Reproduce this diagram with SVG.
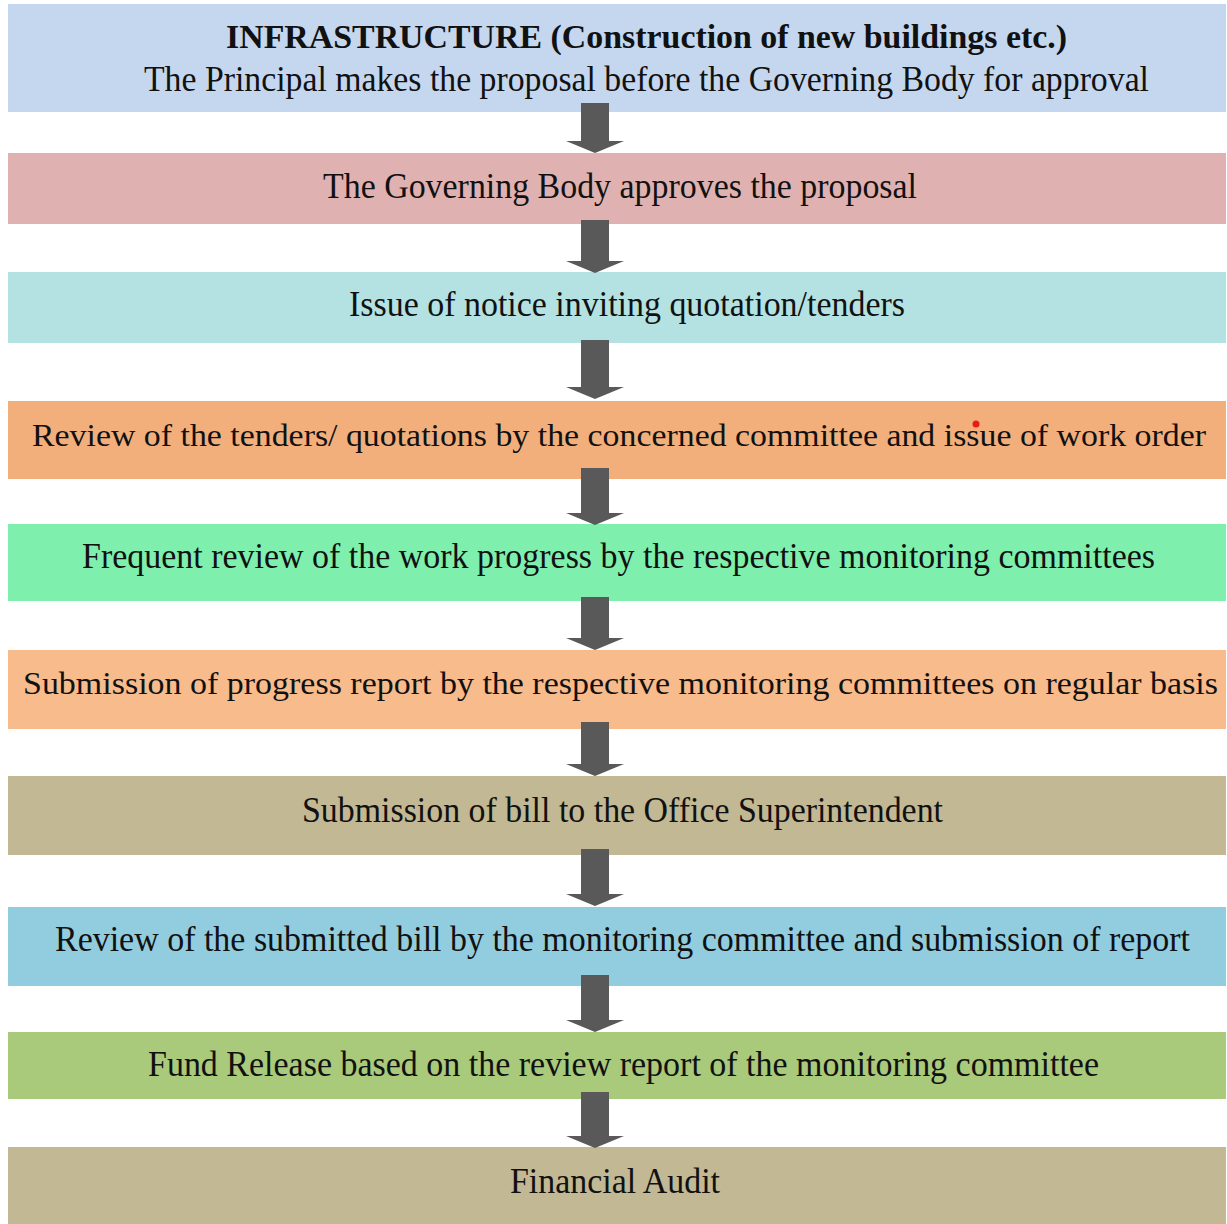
<svg xmlns="http://www.w3.org/2000/svg" width="1227" height="1224" viewBox="0 0 1227 1224">
<style>
.t{font-family:"Liberation Serif","Times New Roman",serif;font-size:35px;fill:#111;}
.b{font-weight:bold;font-size:33px;}
.w{font-size:32px;}
.arr{fill:#595959;}
</style>
<rect x="0" y="0" width="1227" height="1224" fill="#ffffff"/>
<g id="n1"><rect x="8" y="4" width="1218" height="108" fill="#c5d7ef"/>
<text class="t b" x="226" y="48" textLength="841" lengthAdjust="spacingAndGlyphs">INFRASTRUCTURE (Construction of new buildings etc.)</text>
<text class="t" x="144" y="91" textLength="1005" lengthAdjust="spacingAndGlyphs">The Principal makes the proposal before the Governing Body for approval</text></g>
<g id="n2"><rect x="8" y="153" width="1218" height="71" fill="#e0b1b1"/>
<text class="t" x="323" y="198" textLength="594" lengthAdjust="spacingAndGlyphs">The Governing Body approves the proposal</text></g>
<g id="n3"><rect x="8" y="272" width="1218" height="71" fill="#b4e1e1"/>
<text class="t" x="349" y="316" textLength="556" lengthAdjust="spacingAndGlyphs">Issue of notice inviting quotation/tenders</text></g>
<g id="n4"><rect x="8" y="401" width="1218" height="78" fill="#f2af7c"/>
<text class="t w" x="32" y="446" textLength="1174" lengthAdjust="spacingAndGlyphs">Review of the tenders/ quotations by the concerned committee and issue of work order</text>
<circle cx="976" cy="424" r="3.5" fill="#e81b1b"/></g>
<g id="n5"><rect x="8" y="524" width="1218" height="77" fill="#7eefad"/>
<text class="t" x="82" y="568" textLength="1073" lengthAdjust="spacingAndGlyphs">Frequent review of the work progress by the respective monitoring committees</text></g>
<g id="n6"><rect x="8" y="650" width="1218" height="79" fill="#f7bb8c"/>
<text class="t w" x="23" y="694" textLength="1195" lengthAdjust="spacingAndGlyphs">Submission of progress report by the respective monitoring committees on regular basis</text></g>
<g id="n7"><rect x="8" y="776" width="1218" height="79" fill="#c2b893"/>
<text class="t" x="302" y="822" textLength="641" lengthAdjust="spacingAndGlyphs">Submission of bill to the Office Superintendent</text></g>
<g id="n8"><rect x="8" y="907" width="1218" height="79" fill="#92cddf"/>
<text class="t" x="55" y="951" textLength="1135" lengthAdjust="spacingAndGlyphs">Review of the submitted bill by the monitoring committee and submission of report</text></g>
<g id="n9"><rect x="8" y="1032" width="1218" height="67" fill="#a9c97b"/>
<text class="t" x="148" y="1076" textLength="951" lengthAdjust="spacingAndGlyphs">Fund Release based on the review report of the monitoring committee</text></g>
<g id="n10"><rect x="8" y="1147" width="1218" height="77" fill="#c2b893"/>
<text class="t" x="510" y="1193" textLength="210" lengthAdjust="spacingAndGlyphs">Financial Audit</text></g>
<g id="connectors" class="arr">
<path d="M581,103 H609 V141 H624 L595,153 L566,141 H581 Z"/>
<path d="M581,220 H609 V261 H624 L595,273 L566,261 H581 Z"/>
<path d="M581,340 H609 V387 H624 L595,399 L566,387 H581 Z"/>
<path d="M581,468 H609 V513 H624 L595,525 L566,513 H581 Z"/>
<path d="M581,597 H609 V638 H624 L595,650 L566,638 H581 Z"/>
<path d="M581,722 H609 V764 H624 L595,776 L566,764 H581 Z"/>
<path d="M581,849 H609 V894 H624 L595,906 L566,894 H581 Z"/>
<path d="M581,975 H609 V1020 H624 L595,1032 L566,1020 H581 Z"/>
<path d="M581,1092 H609 V1136 H624 L595,1148 L566,1136 H581 Z"/>
</g>
</svg>
